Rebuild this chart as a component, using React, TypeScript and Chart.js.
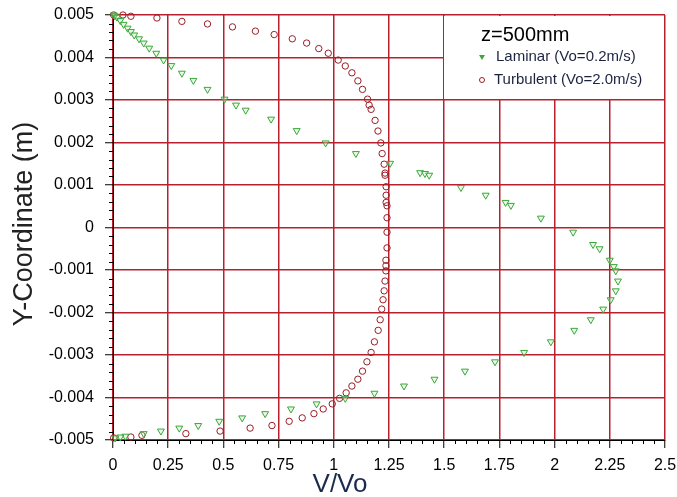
import React, { useEffect, useRef } from "react";
import { Chart, registerables } from "chart.js";

Chart.register(...registerables);

const laminarV = [0.003, 0.008, 0.018, 0.033, 0.048, 0.066, 0.081, 0.096, 0.118, 0.139, 0.164, 0.196, 0.229, 0.264, 0.312, 0.364, 0.428, 0.505, 0.557, 0.601, 0.716, 0.832, 0.963, 1.1, 1.255, 1.391, 1.413, 1.432, 1.576, 1.688, 1.778, 1.802, 1.938, 2.084, 2.174, 2.204, 2.25, 2.268, 2.277, 2.287, 2.277, 2.254, 2.22, 2.164, 2.089, 1.983, 1.862, 1.73, 1.594, 1.456, 1.318, 1.184, 1.052, 0.922, 0.806, 0.689, 0.585, 0.481, 0.386, 0.3, 0.217, 0.139, 0.056, 0.033, 0.01];
const laminarY = [0.005, 0.00498, 0.00495, 0.00487, 0.00478, 0.00469, 0.00461, 0.00453, 0.00444, 0.00434, 0.00422, 0.0041, 0.00394, 0.00381, 0.00363, 0.00346, 0.00325, 0.00302, 0.00288, 0.00276, 0.00255, 0.00228, 0.00199, 0.00174, 0.00151, 0.00129, 0.00127, 0.00123, 0.00094, 0.00076, 0.00059, 0.00052, 0.00022, -0.00011, -0.0004, -0.0005, -0.00077, -0.00092, -0.00102, -0.00126, -0.00149, -0.0017, -0.00192, -0.00217, -0.00242, -0.00269, -0.00294, -0.00316, -0.00338, -0.00357, -0.00373, -0.0039, -0.00402, -0.00415, -0.00427, -0.00438, -0.00448, -0.00456, -0.00466, -0.00472, -0.00479, -0.00485, -0.00491, -0.00493, -0.00495];

const turbulentV = [0.003, 0.045, 0.081, 0.199, 0.312, 0.428, 0.541, 0.645, 0.73, 0.812, 0.877, 0.932, 0.975, 1.02, 1.052, 1.082, 1.109, 1.13, 1.153, 1.16, 1.169, 1.187, 1.2, 1.213, 1.219, 1.228, 1.232, 1.232, 1.237, 1.237, 1.237, 1.241, 1.241, 1.241, 1.241, 1.236, 1.236, 1.236, 1.232, 1.228, 1.223, 1.217, 1.21, 1.201, 1.184, 1.169, 1.15, 1.13, 1.109, 1.082, 1.056, 1.026, 0.993, 0.952, 0.91, 0.857, 0.798, 0.72, 0.621, 0.485, 0.33, 0.131, 0.081, 0.003];
const turbulentY = [0.005, 0.005, 0.00497, 0.00493, 0.00485, 0.00479, 0.00472, 0.00462, 0.00454, 0.00444, 0.00434, 0.00421, 0.0041, 0.00394, 0.0038, 0.00364, 0.00345, 0.00325, 0.00302, 0.00288, 0.00278, 0.00252, 0.00227, 0.00199, 0.00174, 0.00149, 0.00128, 0.00123, 0.00096, 0.00076, 0.00059, 0.00051, 0.00023, -0.00011, -0.00048, -0.00077, -0.0009, -0.00102, -0.00126, -0.00149, -0.0017, -0.00192, -0.00217, -0.00242, -0.00269, -0.00294, -0.00316, -0.00338, -0.00357, -0.00373, -0.00389, -0.00402, -0.00415, -0.00427, -0.00438, -0.00448, -0.00456, -0.00466, -0.00472, -0.00479, -0.00485, -0.00489, -0.00493, -0.00495];

const legendTitle = "z=500mm";
const laminarLabel = "Laminar (Vo=0.2m/s)";
const turbulentLabel = "Turbulent (Vo=2.0m/s)";
const xTitle = "V/Vo";
const yTitle = "Y-Coordinate (m)";

const GRID = "#b8202e";
const GREEN = "#3aa83a";
const DARKRED = "#9a1e26";
const FONT = "'Liberation Sans', Arial, sans-serif";

const decor = {
  id: "decor",
  beforeDraw(chart: any) {
    const { ctx, width, height } = chart;
    ctx.save();
    ctx.fillStyle = "#ffffff";
    ctx.fillRect(0, 0, width, height);
    ctx.restore();
  },
  beforeDatasetsDraw(chart: any) {
    const { ctx, chartArea } = chart;
    ctx.save();
    ctx.fillStyle = "#ffffff";
    ctx.fillRect(chartArea.right - 221, chartArea.top + 1, 220, 83);
    ctx.restore();
  },
  afterDraw(chart: any) {
    const { ctx, chartArea } = chart;
    const xs = chart.scales.x;
    const ys = chart.scales.y;
    ctx.save();
    // minor ticks
    ctx.strokeStyle = "#000";
    ctx.lineWidth = 1;
    ctx.beginPath();
    for (let i = 0; i <= 50; i++) {
      if (i % 5 === 0) continue;
      const px = Math.round(xs.getPixelForValue(i * 0.05)) + 0.5;
      ctx.moveTo(px, chartArea.bottom);
      ctx.lineTo(px, chartArea.bottom + 4);
    }
    for (let i = 0; i <= 50; i++) {
      if (i % 5 === 0) continue;
      const py = Math.round(ys.getPixelForValue(-0.005 + i * 0.0002)) + 0.5;
      ctx.moveTo(chartArea.left - 4, py);
      ctx.lineTo(chartArea.left, py);
    }
    ctx.stroke();

    // legend
    const lx = chartArea.right - 184;
    ctx.fillStyle = "#000";
    ctx.font = `20px ${FONT}`;
    ctx.textAlign = "left";
    ctx.textBaseline = "alphabetic";
    ctx.fillText(legendTitle, lx, chartArea.top + 26);
    ctx.font = `15px ${FONT}`;
    ctx.fillStyle = "#1c2340";
    ctx.textBaseline = "middle";
    ctx.fillText(laminarLabel, lx + 15, chartArea.top + 42);
    ctx.fillText(turbulentLabel, lx + 13, chartArea.top + 65);
    // legend markers
    ctx.fillStyle = GREEN;
    const tx = lx + 1, ty = chartArea.top + 42;
    ctx.beginPath();
    ctx.moveTo(tx - 3, ty - 2);
    ctx.lineTo(tx + 3, ty - 2);
    ctx.lineTo(tx, ty + 3);
    ctx.closePath();
    ctx.fill();
    ctx.strokeStyle = DARKRED;
    ctx.beginPath();
    ctx.arc(lx + 1, chartArea.top + 65, 2.5, 0, Math.PI * 2);
    ctx.stroke();

    // axis titles
    ctx.fillStyle = "#222";
    ctx.font = `27px ${FONT}`;
    ctx.textAlign = "center";
    ctx.textBaseline = "alphabetic";
    ctx.save();
    ctx.translate(32, 224);
    ctx.rotate(-Math.PI / 2);
    ctx.fillText(yTitle, 0, 0);
    ctx.restore();
    ctx.fillStyle = "#1b2b4b";
    ctx.font = `26px ${FONT}`;
    ctx.fillText(xTitle, 340, 492);
    ctx.restore();
  },
};

export default function App() {
  const ref = useRef<HTMLCanvasElement | null>(null);
  useEffect(() => {
    document.body.style.margin = "0";
    const canvas = ref.current!;
    const chart = new Chart(canvas, {
      type: "scatter",
      data: {
        datasets: [
          {
            label: laminarLabel,
            data: laminarV.map((v, i) => ({ x: v, y: laminarY[i] })),
            pointStyle: "triangle",
            rotation: 180,
            radius: 4,
            borderColor: GREEN,
            backgroundColor: "rgba(200,240,190,0.4)",
            borderWidth: 1,
            clip: false,
          } as any,
          {
            label: turbulentLabel,
            data: turbulentV.map((v, i) => ({ x: v, y: turbulentY[i] })),
            pointStyle: "circle",
            radius: 3.2,
            borderColor: DARKRED,
            backgroundColor: "rgba(0,0,0,0)",
            borderWidth: 1,
            clip: false,
          } as any,
        ],
      },
      options: {
        responsive: false,
        animation: false,
        maintainAspectRatio: false,
        layout: { padding: { top: 15, right: 12, left: 0, bottom: 0 } },
        plugins: { legend: { display: false }, tooltip: { enabled: false }, title: { display: false } },
        scales: {
          x: {
            type: "linear",
            min: 0,
            max: 2.5,
            afterFit: (s: any) => { s.height = 57; s.paddingLeft = 0; s.paddingRight = 0; },
            ticks: {
              stepSize: 0.25,
              padding: 8,
              maxRotation: 0,
              autoSkip: false,
              color: "#000",
              font: { family: FONT, size: 16 },
              callback: (v: any) => String(Math.round(Number(v) * 100) / 100),
            },
            grid: { color: GRID, lineWidth: 1.5, drawTicks: true, tickLength: 8, tickColor: "#000", tickWidth: 1 },
            border: { display: true, color: "#000", width: 1 },
          },
          y: {
            type: "linear",
            min: -0.005,
            max: 0.005,
            afterFit: (s: any) => { s.width = 113; s.paddingTop = 0; s.paddingBottom = 0; },
            ticks: {
              stepSize: 0.001,
              padding: 11,
              autoSkip: false,
              color: "#000",
              font: { family: FONT, size: 16 },
              callback: (v: any) => String(Math.round(Number(v) * 1000) / 1000),
            },
            grid: { color: GRID, lineWidth: 1.5, drawTicks: true, tickLength: 8, tickColor: "#000", tickWidth: 1 },
            border: { display: true, color: "#000", width: 1 },
          },
        },
      },
      plugins: [decor],
    });
    return () => chart.destroy();
  }, []);
  return (
    <div style={{ width: 677, height: 497 }}>
      <canvas ref={ref} width={677} height={497} style={{ width: 677, height: 497, display: "block" }} />
    </div>
  );
}
